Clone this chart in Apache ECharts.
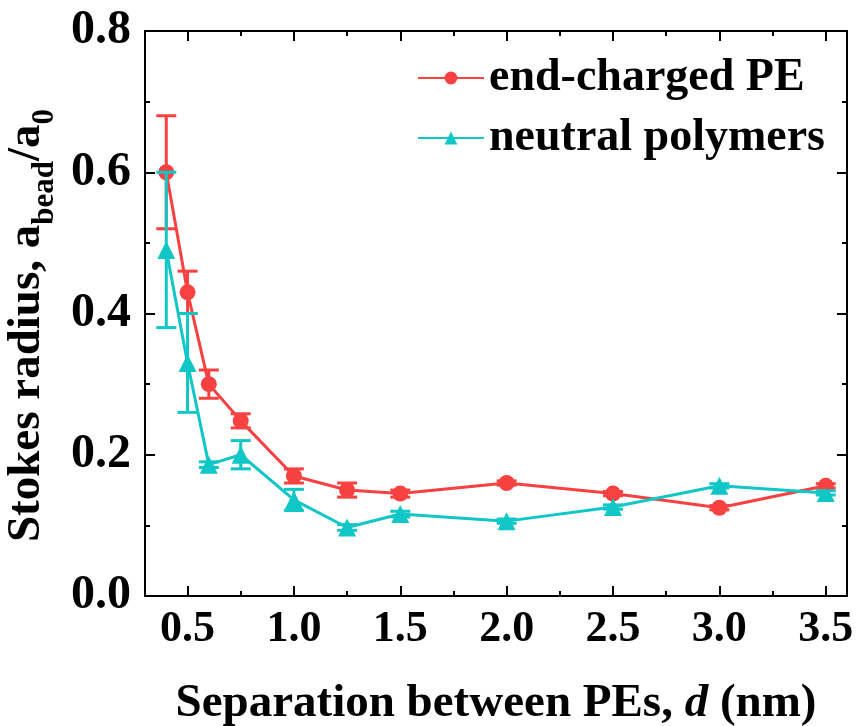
<!DOCTYPE html>
<html>
<head>
<meta charset="utf-8">
<script src="https://cdn.jsdelivr.net/npm/echarts@6/dist/echarts.min.js"></script>
<style>html,body{margin:0;padding:0;background:#fff}#c{width:860px;height:726px}</style>
</head>
<body>
<div id="c"></div>
<script>
const dValues = [0.4, 0.5, 0.6, 0.75, 1.0, 1.25, 1.5, 2.0, 2.5, 3.0, 3.5];
const peValues = [0.60, 0.43, 0.30, 0.248, 0.17, 0.15, 0.145, 0.16, 0.145, 0.125, 0.156];
const peErr = [0.08, 0.03, 0.02, 0.01, 0.01, 0.01, 0.005, 0.003, 0.003, 0.003, 0.003];
const neutralValues = [0.49, 0.33, 0.186, 0.20, 0.136, 0.097, 0.116, 0.106, 0.126, 0.156, 0.146];
const neutralErr = [0.11, 0.07, 0.004, 0.02, 0.015, 0.004, 0.004, 0.003, 0.003, 0.003, 0.003];
const xMajorTicks = [0.5, 1.0, 1.5, 2.0, 2.5, 3.0, 3.5];
const xMinorTicks = [0.75, 1.25, 1.75, 2.25, 2.75, 3.25];
const seriesNames = ['end-charged PE', 'neutral polymers'];

const RED = '#f84141';
const TEAL = '#11c6c6';
const FONT = '"Liberation Serif", "DejaVu Serif", serif';

const pts = (ys) => dValues.map((x, i) => [x, ys[i]]);
const errs = (ys, es) => dValues.map((x, i) => [x, ys[i] - es[i], ys[i] + es[i]]);

function errRender(color) {
  return function (params, api) {
    const x = api.value(0);
    const lo = api.coord([x, api.value(1)]);
    const hi = api.coord([x, api.value(2)]);
    const w = 10;
    const st = { stroke: color, lineWidth: 3 };
    return {
      type: 'group',
      children: [
        { type: 'line', shape: { x1: lo[0], y1: lo[1], x2: hi[0], y2: hi[1] }, style: st },
        { type: 'line', shape: { x1: lo[0] - w, y1: lo[1], x2: lo[0] + w, y2: lo[1] }, style: st },
        { type: 'line', shape: { x1: hi[0] - w, y1: hi[1], x2: hi[0] + w, y2: hi[1] }, style: st }
      ]
    };
  };
}

const axisLine = { show: true, lineStyle: { color: '#000', width: 2 } };
const xBase = { type: 'value', min: 0.3, max: 3.6, splitLine: { show: false } };

const chart = echarts.init(document.getElementById('c'), null, { renderer: 'canvas' });
chart.setOption({
  backgroundColor: '#fff',
  animation: false,
  grid: { left: 145, right: 13, top: 31, bottom: 130, containLabel: false, outerBoundsMode: 'none' },
  legend: {
    orient: 'vertical',
    right: 30,
    top: 50,
    itemWidth: 66,
    itemHeight: 16,
    itemGap: 14,
    data: seriesNames,
    textStyle: { fontFamily: FONT, fontWeight: 'bold', fontSize: 46, color: '#000' }
  },
  xAxis: [
    Object.assign({}, xBase, {
      position: 'bottom',
      axisLine: axisLine,
      axisTick: { show: true, inside: true, length: 10, customValues: xMajorTicks, lineStyle: { color: '#000', width: 2 } },
      axisLabel: { customValues: xMajorTicks, margin: 12, fontFamily: FONT, fontWeight: 'bold', fontSize: 44, color: '#000',
        formatter: (v) => v.toFixed(1) },
      name: '{n|Separation between PEs, }{i|d}{n| (nm)}',
      nameLocation: 'middle',
      nameGap: 84,
      nameTextStyle: { rich: {
        n: { fontFamily: FONT, fontWeight: 'bold', fontSize: 47, color: '#000' },
        i: { fontFamily: FONT, fontWeight: 'bold', fontStyle: 'italic', fontSize: 47, color: '#000' }
      } }
    }),
    Object.assign({}, xBase, {
      position: 'bottom',
      axisLine: { show: false },
      axisTick: { show: true, inside: true, length: 5, customValues: xMinorTicks, lineStyle: { color: '#000', width: 2 } },
      axisLabel: { show: false }
    }),
    Object.assign({}, xBase, {
      position: 'top',
      axisLine: axisLine,
      axisTick: { show: true, inside: true, length: 10, customValues: xMajorTicks, lineStyle: { color: '#000', width: 2 } },
      axisLabel: { show: false }
    }),
    Object.assign({}, xBase, {
      position: 'top',
      axisLine: { show: false },
      axisTick: { show: true, inside: true, length: 5, customValues: xMinorTicks, lineStyle: { color: '#000', width: 2 } },
      axisLabel: { show: false }
    })
  ],
  yAxis: [
    {
      type: 'value', min: 0, max: 0.8, interval: 0.2, position: 'left',
      splitLine: { show: false },
      axisLine: axisLine,
      axisTick: { show: true, inside: true, length: 10, lineStyle: { color: '#000', width: 2 } },
      minorTick: { show: true, splitNumber: 2, length: 5, lineStyle: { color: '#000', width: 2 } },
      axisLabel: { margin: 14, fontFamily: FONT, fontWeight: 'bold', fontSize: 48, color: '#000',
        formatter: (v) => v.toFixed(1) },
      name: '{n|Stokes radius, a}{s|bead}{n|/a}{s|0}',
      nameLocation: 'middle',
      nameRotate: 90,
      nameGap: 78,
      nameTextStyle: { padding: [0, 24, 0, 0], rich: {
        n: { fontFamily: FONT, fontWeight: 'bold', fontSize: 47, color: '#000', lineHeight: 52, verticalAlign: 'bottom' },
        s: { fontFamily: FONT, fontWeight: 'bold', fontSize: 31, color: '#000', lineHeight: 52, verticalAlign: 'bottom', padding: [0, 0, -10, 0] }
      } }
    },
    {
      type: 'value', min: 0, max: 0.8, interval: 0.2, position: 'right',
      splitLine: { show: false },
      axisLine: axisLine,
      axisTick: { show: true, inside: true, length: 10, lineStyle: { color: '#000', width: 2 } },
      minorTick: { show: true, splitNumber: 2, length: 5, lineStyle: { color: '#000', width: 2 } },
      axisLabel: { show: false }
    }
  ],
  series: [
    {
      name: seriesNames[0], type: 'line', data: pts(peValues), xAxisIndex: 0, yAxisIndex: 0,
      symbol: 'circle', symbolSize: 16, color: RED,
      lineStyle: { width: 3, color: RED }, itemStyle: { color: RED }, z: 3
    },
    {
      name: seriesNames[1], type: 'line', data: pts(neutralValues), xAxisIndex: 0, yAxisIndex: 0,
      symbol: 'triangle', symbolSize: 18, color: TEAL,
      lineStyle: { width: 3, color: TEAL }, itemStyle: { color: TEAL }, z: 3
    },
    {
      type: 'custom', name: 'errPE', data: errs(peValues, peErr), renderItem: errRender(RED),
      encode: { x: 0, y: [1, 2] }, xAxisIndex: 0, yAxisIndex: 0, z: 4, silent: true
    },
    {
      type: 'custom', name: 'errNeutral', data: errs(neutralValues, neutralErr), renderItem: errRender(TEAL),
      encode: { x: 0, y: [1, 2] }, xAxisIndex: 0, yAxisIndex: 0, z: 4, silent: true
    }
  ]
});
</script>
</body>
</html>
